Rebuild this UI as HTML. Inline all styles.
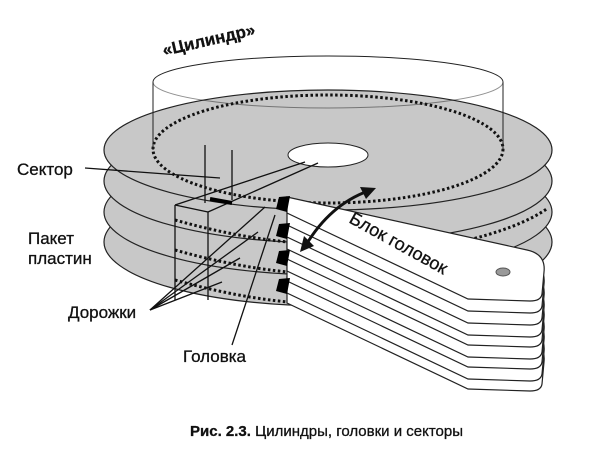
<!DOCTYPE html><html><head><meta charset="utf-8"><style>body{margin:0;background:#fff}svg{display:block}text{font-family:"Liberation Sans",sans-serif;fill:#111;stroke:#111;stroke-width:0.3}</style></head><body>
<svg width="600" height="450" viewBox="0 0 600 450">
<defs><path id="arm" d="M287,197 L527,250 Q546,254 544,272 L542,294 Q541,301 530,301 L468,299 L287,213 Z"/></defs>
<g fill="#c8c8c8" stroke="#222" stroke-width="1.2">
<ellipse cx="328" cy="242" rx="224" ry="64"/>
<ellipse cx="328" cy="212" rx="224" ry="63"/>
<ellipse cx="328" cy="181" rx="224" ry="62"/>
<ellipse cx="328" cy="150" rx="224" ry="60"/>
</g>
<g fill="none" stroke="#111" stroke-width="3" stroke-dasharray="2.5 2.5">
<ellipse cx="328" cy="149" rx="175" ry="54"/>
<path d="M175,220 Q260,244 330,244"/>
<path d="M175,250 Q260,274 330,274"/>
<path d="M175,280 Q260,304 330,304"/>
<path d="M460,242 Q520,228 548,208"/>
</g>
<g fill="none" stroke="#222" stroke-width="1">
<path d="M153,82 A175,26 0 0 1 503,82"/>
<path d="M153,82 A175,26 0 0 0 503,82" stroke-opacity="0.5"/>
<line x1="153" y1="82" x2="153" y2="150"/><line x1="503" y1="82" x2="503" y2="150"/>
</g>
<ellipse cx="328" cy="155" rx="40" ry="12" fill="#fff" stroke="#222"/>
<g stroke="#111" stroke-width="1.3" fill="none">
<line x1="205" y1="145" x2="205" y2="203"/><line x1="232" y1="150" x2="232" y2="200"/>
<line x1="175" y1="205" x2="305" y2="162"/><line x1="208" y1="212" x2="318" y2="163"/>
<line x1="175" y1="205" x2="175" y2="300"/><line x1="208" y1="212" x2="208" y2="300"/>
<line x1="175" y1="205" x2="208" y2="212"/>
</g>
<line x1="210" y1="199" x2="232" y2="203" stroke="#000" stroke-width="4"/>
<g fill="#fff" stroke="#222" stroke-width="1.2">
<use href="#arm" transform="translate(0,90)"/><use href="#arm" transform="translate(0,80)"/>
<use href="#arm" transform="translate(0,68)"/><use href="#arm" transform="translate(0,58)"/>
<use href="#arm" transform="translate(0,46)"/><use href="#arm" transform="translate(0,36)"/>
<use href="#arm" transform="translate(0,24)"/><use href="#arm" transform="translate(0,12)"/>
<use href="#arm"/>
</g>
<g fill="#000">
<path d="M279,197 L290,196 L287,212 L276,209Z"/><path d="M279,224 L290,223 L287,239 L276,236Z"/>
<path d="M279,251 L290,250 L287,266 L276,263Z"/><path d="M279,279 L290,278 L287,294 L276,291Z"/>
</g>
<ellipse cx="503" cy="272" rx="7" ry="4" fill="#999" stroke="#555"/>
<g stroke="#111" stroke-width="1.3" fill="none">
<line x1="85" y1="168" x2="220" y2="178"/>
<line x1="150" y1="310" x2="265" y2="207"/><line x1="150" y1="310" x2="258" y2="232"/>
<line x1="150" y1="310" x2="240" y2="258"/><line x1="150" y1="310" x2="222" y2="282"/>
<line x1="232" y1="345" x2="275" y2="215"/>
<path d="M306,245 Q330,205 368,191" stroke-width="3"/>
</g>
<path d="M300,252 L304,236 L314,246Z" fill="#111"/><path d="M376,188 L360,187 L366,199Z" fill="#111"/>
<text x="0" y="0" font-size="18" transform="translate(348,222) rotate(29)">Блок головок</text>
<text x="0" y="0" font-size="17" font-weight="bold" transform="translate(164,56) rotate(-13)">«Цилиндр»</text>
<text x="17" y="175" font-size="17">Сектор</text>
<text x="28" y="244" font-size="17">Пакет</text>
<text x="28" y="264" font-size="17">пластин</text>
<text x="68" y="318" font-size="17">Дорожки</text>
<text x="183" y="362" font-size="17">Головка</text>
<text x="190" y="436" font-size="15"><tspan font-weight="bold">Рис. 2.3.</tspan> Цилиндры, головки и секторы</text>
</svg></body></html>
